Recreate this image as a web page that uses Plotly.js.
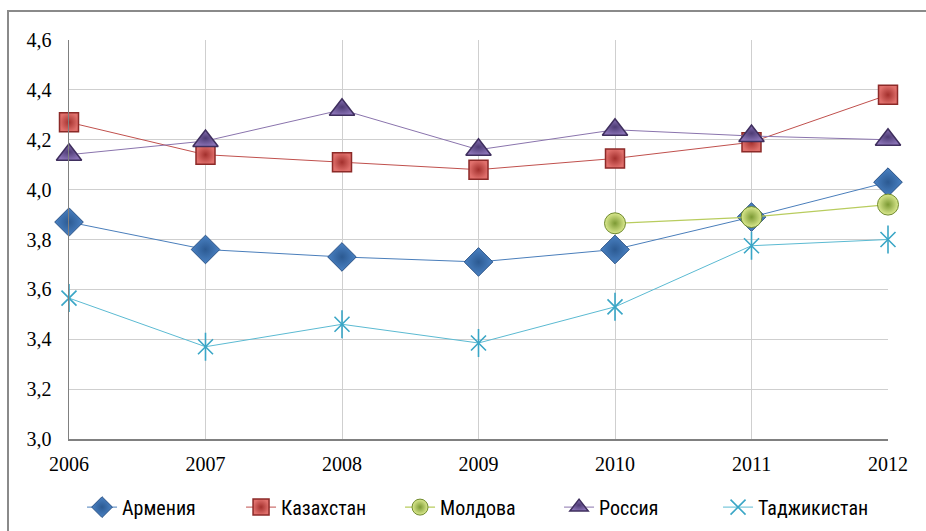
<!DOCTYPE html>
<html><head><meta charset="utf-8">
<script src="https://cdn.plot.ly/plotly-3.0.1.min.js"></script>
<style>
html,body{margin:0;padding:0;background:#fff;width:926px;height:531px;overflow:hidden;}
#frame{position:absolute;left:7px;top:10px;width:1000px;height:600px;border-top:2px solid #8a8a8a;border-left:2px solid #8a8a8a;}
#chart{position:absolute;left:0;top:0;width:926px;height:531px;}
</style></head>
<body>
<div id="frame"></div>
<div id="chart"></div>
<script>
const years = [2006, 2007, 2008, 2009, 2010, 2011, 2012];
const armenia = [3.87, 3.76, 3.73, 3.71, 3.76, 3.89, 4.03];
const kazakhstan = [4.27, 4.14, 4.11, 4.08, 4.125, 4.19, 4.38];
const moldova = [null, null, null, null, 3.865, 3.89, 3.94];
const russia = [4.14, 4.195, 4.32, 4.16, 4.24, 4.215, 4.20];
const tajikistan = [3.565, 3.37, 3.46, 3.385, 3.53, 3.775, 3.80];
const names = ["Армения", "Казахстан", "Молдова", "Россия", "Таджикистан"];
const yTicks = [3.0, 3.2, 3.4, 3.6, 3.8, 4.0, 4.2, 4.4, 4.6];

const traces = [
  {x: years, y: armenia, name: names[0], mode: "lines+markers",
   line: {color: "#4a7ebb", width: 1},
   marker: {symbol: "diamond", size: 22, color: "#4a82c4", line: {color: "#2a5286", width: 1},
            gradient: {type: "radial", color: "#2c5a92"}}},
  {x: years, y: kazakhstan, name: names[1], mode: "lines+markers",
   line: {color: "#c0504d", width: 1},
   marker: {symbol: "square", size: 19, color: "#e0706c", line: {color: "#8c2a28", width: 1.5},
            gradient: {type: "radial", color: "#a3302d"}}},
  {x: years, y: moldova, name: names[2], mode: "lines+markers",
   line: {color: "#b8cc5e", width: 1.3},
   marker: {symbol: "circle", size: 21, color: "#dbe98f", line: {color: "#6f8a2e", width: 1},
            gradient: {type: "radial", color: "#7c9a34"}}},
  {x: years, y: russia, name: names[3], mode: "lines+markers",
   line: {color: "#8a74ad", width: 1},
   marker: {symbol: "triangle-up", size: 22, color: "#8a73b6", line: {color: "#3f2f5e", width: 1.5},
            gradient: {type: "radial", color: "#4d3b74"}}},
  {x: years, y: tajikistan, name: names[4], mode: "lines+markers",
   line: {color: "#5bbad2", width: 1},
   marker: {symbol: "x-thin-open", size: 15, color: "#3aa6c6", line: {color: "#3aa6c6", width: 1.6}}},
  {x: years, y: tajikistan, name: names[4], mode: "markers", showlegend: false,
   marker: {symbol: "line-ns-open", size: 20, color: "#3aa6c6", line: {color: "#3aa6c6", width: 1.6}}}
];
traces.forEach(t => { t.cliponaxis = false; t.hoverinfo = "skip"; });

const tickFont = {family: "Liberation Serif", size: 20, color: "#000"};
const layout = {
  width: 926, height: 531,
  margin: {l: 69, r: 38, t: 40, b: 92},
  paper_bgcolor: "rgba(0,0,0,0)", plot_bgcolor: "rgba(0,0,0,0)",
  font: {family: "Liberation Serif", color: "#000"},
  separators: ", ",
  showlegend: true,
  xaxis: {
    range: [2006, 2012], tickvals: years, ticktext: years.map(String),
    showgrid: true, gridcolor: "#cfcfcf", gridwidth: 1,
    showline: true, linecolor: "#808080", linewidth: 1.5,
    zeroline: false, ticks: "", ticklabelstandoff: 6,
    tickfont: tickFont
  },
  yaxis: {
    range: [3.0, 4.6], tickvals: yTicks, tickformat: ".1f",
    showgrid: true, gridcolor: "#cfcfcf", gridwidth: 1,
    showline: true, linecolor: "#808080", linewidth: 1.5,
    zeroline: false, ticks: "", ticklabelstandoff: 12,
    tickfont: tickFont
  },
  legend: {
    orientation: "h", xref: "container", x: 0.0886, xanchor: "left",
    yref: "container", y: 0.045, yanchor: "middle",
    font: {family: "Roboto Condensed", size: 20, color: "#000"},
    entrywidth: 114, bgcolor: "rgba(0,0,0,0)"
  }
};
Plotly.newPlot("chart", traces, layout, {staticPlot: true, displayModeBar: false});
</script>
</body></html>
